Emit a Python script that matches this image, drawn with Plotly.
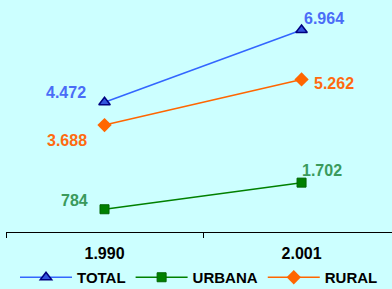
import plotly.graph_objects as go

years = ["1.990", "2.001"]
total = [4472, 6964]
urbana = [784, 1702]
rural = [3688, 5262]

def fmt(v):
    return f"{v:,}".replace(",", ".")

BG = "#CCFFFF"
FONT = "Liberation Sans, Arial, sans-serif"

fig = go.Figure()
fig.add_trace(go.Scatter(x=years, y=total, name="TOTAL", mode="lines+markers",
                         line=dict(color="#3366FF", width=1.5),
                         marker=dict(symbol="triangle-up", size=10, color="#3355DD",
                                     line=dict(color="#000080", width=1.5))))
fig.add_trace(go.Scatter(x=years, y=urbana, name="URBANA", mode="lines+markers",
                         line=dict(color="#008000", width=1.5),
                         marker=dict(symbol="square", size=9, color="#008000",
                                     line=dict(color="#006400", width=1))))
fig.add_trace(go.Scatter(x=years, y=rural, name="RURAL", mode="lines+markers",
                         line=dict(color="#FF6600", width=1.5),
                         marker=dict(symbol="diamond", size=11, color="#FF6600",
                                     line=dict(color="#FF6600", width=0))))

labels = [
    (total, "#4A6CF7", [(-39, 10), (22, 12)]),
    (rural, "#FF6A10", [(-38, -15), (32, -4)]),
    (urbana, "#3A9A5C", [(-30, 9), (20, 12)]),
]
for vals, col, offs in labels:
    for i, (v, (dx, dy)) in enumerate(zip(vals, offs)):
        fig.add_annotation(x=i, y=v, text=fmt(v), showarrow=False,
                           xshift=dx, yshift=dy,
                           font=dict(family=FONT, size=16, color=col, weight="bold"))

fig.update_layout(
    width=392, height=289,
    margin=dict(l=6, r=0, t=0, b=57, autoexpand=False),
    paper_bgcolor=BG, plot_bgcolor=BG,
    font=dict(family=FONT, size=14, color="black"),
    showlegend=True,
    legend=dict(orientation="h", x=0.5, xanchor="center", y=-0.125, yanchor="top",
                xref="paper", yref="paper", bgcolor="rgba(0,0,0,0)",
                font=dict(family=FONT, size=15, color="black", weight="bold"),
                itemwidth=52, tracegroupgap=0),
    xaxis=dict(type="category", range=[-0.5, 1.459], showgrid=False,
               showline=True, linecolor="black", linewidth=1,
               ticks="outside", ticklen=5, tickcolor="black", tickson="boundaries",
               ticklabelstandoff=7,
               tickfont=dict(family=FONT, size=16, color="black", weight="bold")),
    yaxis=dict(range=[0, 8000], visible=False, showgrid=False, zeroline=False),
)

fig.write_html("out.html", config={"displayModeBar": False},
               post_script="document.body.style.margin='0';")
